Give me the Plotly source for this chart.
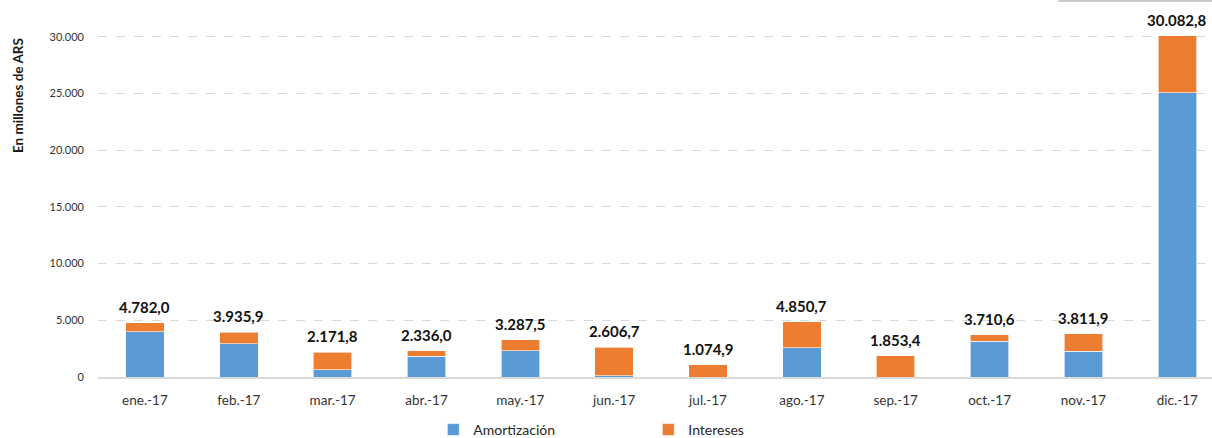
import plotly.graph_objects as go

meses = ["ene.-17", "feb.-17", "mar.-17", "abr.-17", "may.-17", "jun.-17",
         "jul.-17", "ago.-17", "sep.-17", "oct.-17", "nov.-17", "dic.-17"]
totales = [4782.0, 3935.9, 2171.8, 2336.0, 3287.5, 2606.7,
           1074.9, 4850.7, 1853.4, 3710.6, 3811.9, 30082.8]
amortizacion = [3970.0, 2940.0, 650.0, 1830.0, 2300.0, 90.0,
                0.0, 2600.0, 0.0, 3130.0, 2270.0, 25050.0]
intereses = [812.0, 995.9, 1521.8, 506.0, 987.5, 2516.7,
             1074.9, 2250.7, 1853.4, 580.6, 1541.9, 5032.8]
y_ticks = [0, 5000, 10000, 15000, 20000, 25000, 30000]
y_ticktext = ["0", "5.000", "10.000", "15.000", "20.000", "25.000", "30.000"]
y_titulo = "En millones de ARS"


def fmt_es(v):
    s = f"{v:,.1f}"
    return s.replace(",", "X").replace(".", ",").replace("X", ".")


FONT = "Lato"
fig = go.Figure()
fig.add_trace(go.Bar(x=meses, y=amortizacion, name="Amortización",
                     marker=dict(color="#5B9BD5", line=dict(color="white", width=0.6)),
                     width=0.41))
fig.add_trace(go.Bar(x=meses, y=intereses, name="Intereses",
                     marker=dict(color="#ED7D31", line=dict(color="white", width=0.6)),
                     width=0.41))

for m, t in zip(meses, totales):
    fig.add_annotation(x=m, y=t, text="<b>" + fmt_es(t) + "</b>", showarrow=False,
                       yanchor="bottom", yshift=5,
                       font=dict(family=FONT, size=15, color="#111111"))

# y-axis title (placed in the upper part, as in the reference)
fig.add_annotation(xref="paper", yref="paper", x=-0.0718, y=0.774,
                   text="<b>" + y_titulo + "</b>", textangle=-90, showarrow=False,
                   xanchor="center", yanchor="middle",
                   font=dict(family=FONT, size=13.5, color="#1a1a1a"))

fig.add_shape(type="line", xref="paper", yref="paper", x0=0.862, x1=1.0,
              y0=1.036, y1=1.036, line=dict(color="#c8c8c8", width=2))

fig.update_layout(
    width=1212, height=438,
    margin=dict(l=98, r=0, t=14, b=61, autoexpand=False),
    paper_bgcolor="white", plot_bgcolor="white",
    barmode="stack",
    showlegend=True,
    legend=dict(orientation="h", x=0.301, xanchor="left", y=-0.146, yanchor="middle",
                entrywidth=170, font=dict(family=FONT, size=14, color="#262626"),
                itemwidth=30, traceorder="normal"),
    xaxis=dict(range=[-0.5, 11.37], showgrid=False, showline=True, automargin=False,
               linecolor="#d9d9d9", linewidth=2, ticks="", ticklabelstandoff=10,
               tickfont=dict(family=FONT, size=13.5, color="#333333")),
    yaxis=dict(range=[0, 32000], tickvals=y_ticks, ticktext=y_ticktext, automargin=False,
               showgrid=True, gridcolor="#d9d9d9", griddash="dash", gridwidth=1,
               zeroline=False, showline=False, ticks="",
               tickfont=dict(family=FONT, size=11, color="#333333"),
               ticklabelstandoff=13),
)

fig.write_html("out.html", config={"displayModeBar": False},
               post_script="document.body.style.margin='0';document.body.style.overflow='hidden';")
